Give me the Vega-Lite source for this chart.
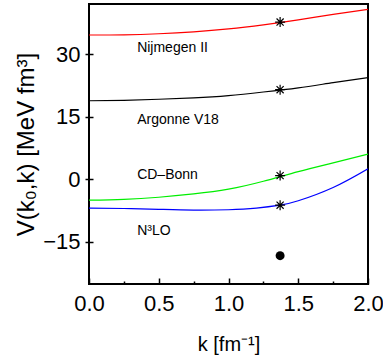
{
  "$schema": "https://vega.github.io/schema/vega-lite/v6.json",
  "width": 279,
  "height": 280,
  "autosize": {"type": "none"},
  "padding": {"left": 89, "top": 4, "right": 15, "bottom": 73},
  "config": {
    "font": "Liberation Sans",
    "view": {"stroke": "black", "strokeWidth": 2},
    "axis": {"grid": false, "domain": false, "tickColor": "black", "labelColor": "black", "titleColor": "black", "titleFontWeight": "normal", "tickWidth": 1.5}
  },
  "datasets": {
    "curves": [
      {"model": "Nijmegen II", "k": 0, "v": 34.65}, {"model": "Nijmegen II", "k": 0.25, "v": 34.7}, {"model": "Nijmegen II", "k": 0.5, "v": 34.95}, {"model": "Nijmegen II", "k": 0.75, "v": 35.4}, {"model": "Nijmegen II", "k": 1.0, "v": 36.1}, {"model": "Nijmegen II", "k": 1.25, "v": 37.1}, {"model": "Nijmegen II", "k": 1.5, "v": 38.3}, {"model": "Nijmegen II", "k": 1.75, "v": 39.6}, {"model": "Nijmegen II", "k": 2.0, "v": 40.8},
      {"model": "Argonne V18", "k": 0, "v": 18.85}, {"model": "Argonne V18", "k": 0.25, "v": 18.95}, {"model": "Argonne V18", "k": 0.5, "v": 19.2}, {"model": "Argonne V18", "k": 0.75, "v": 19.55}, {"model": "Argonne V18", "k": 1.0, "v": 20.1}, {"model": "Argonne V18", "k": 1.25, "v": 20.95}, {"model": "Argonne V18", "k": 1.5, "v": 21.95}, {"model": "Argonne V18", "k": 1.75, "v": 23.2}, {"model": "Argonne V18", "k": 2.0, "v": 24.4},
      {"model": "CD-Bonn", "k": 0, "v": -5.05}, {"model": "CD-Bonn", "k": 0.25, "v": -4.85}, {"model": "CD-Bonn", "k": 0.5, "v": -4.35}, {"model": "CD-Bonn", "k": 0.75, "v": -3.55}, {"model": "CD-Bonn", "k": 1.0, "v": -2.4}, {"model": "CD-Bonn", "k": 1.25, "v": -0.5}, {"model": "CD-Bonn", "k": 1.5, "v": 1.8}, {"model": "CD-Bonn", "k": 1.75, "v": 3.9}, {"model": "CD-Bonn", "k": 2.0, "v": 6.0},
      {"model": "N3LO", "k": 0, "v": -6.97}, {"model": "N3LO", "k": 0.25, "v": -7.05}, {"model": "N3LO", "k": 0.5, "v": -7.25}, {"model": "N3LO", "k": 0.75, "v": -7.45}, {"model": "N3LO", "k": 1.0, "v": -7.35}, {"model": "N3LO", "k": 1.2, "v": -6.95}, {"model": "N3LO", "k": 1.37, "v": -6.25}, {"model": "N3LO", "k": 1.5, "v": -5.2}, {"model": "N3LO", "k": 1.75, "v": -2.0}, {"model": "N3LO", "k": 2.0, "v": 2.5}
    ],
    "stars": [
      {"k": 1.37, "v": 37.75}, {"k": 1.37, "v": 21.5}, {"k": 1.37, "v": 0.85}, {"k": 1.37, "v": -6.25}
    ],
    "dot": [{"k": 1.37, "v": -18.4}],
    "labels": [
      {"k": 0.345, "v": 31.5, "text": "Nijmegen II"},
      {"k": 0.345, "v": 14.3, "text": "Argonne V18"},
      {"k": 0.345, "v": 1.1, "text": "CD–Bonn"},
      {"k": 0.345, "v": -12.4, "text": "N³LO"}
    ]
  },
  "encoding": {
    "x": {
      "field": "k", "type": "quantitative",
      "scale": {"domain": [0, 2], "nice": false, "zero": false},
      "axis": {
        "title": "k [fm⁻¹]",
        "titleFontSize": 20,
        "titlePadding": 20,
        "values": [0, 0.25, 0.5, 0.75, 1, 1.25, 1.5, 1.75, 2],
        "tickSize": -6,
        "tickDash": {"condition": {"test": "datum.value % 0.5 != 0", "value": [3, 10]}, "value": [6, 0]},
        "labelExpr": "datum.value % 0.5 == 0 ? format(datum.value, '.1f') : ''",
        "labelFontSize": 22,
        "labelPadding": 15,
        "labelFlush": false
      }
    },
    "y": {
      "field": "v", "type": "quantitative",
      "scale": {"domain": [-25.2, 42.1], "nice": false, "zero": false},
      "axis": {
        "title": "V(k₀,k) [MeV fm³]",
        "titleFontSize": 24,
        "titlePadding": 4,
        "values": [-15, 0, 15, 30],
        "offset": -4,
        "tickSize": 8,
        "labelFontSize": 22,
        "labelPadding": 5
      }
    }
  },
  "layer": [
    {
      "data": {"name": "curves"},
      "mark": {"type": "line", "interpolate": "natural", "strokeWidth": 1.2, "clip": true},
      "encoding": {
        "color": {
          "field": "model", "type": "nominal", "legend": null,
          "scale": {"domain": ["Nijmegen II", "Argonne V18", "CD-Bonn", "N3LO"], "range": ["#ff0000", "#000000", "#00ee00", "#0000ff"]}
        }
      }
    },
    {
      "data": {"name": "stars"},
      "mark": {"type": "point", "shape": "M-1,0L1,0M0,-1L0,1M-0.71,-0.71L0.71,0.71M-0.71,0.71L0.71,-0.71", "size": 100, "stroke": "black", "strokeWidth": 1.2, "filled": false, "opacity": 1}
    },
    {
      "data": {"name": "dot"},
      "mark": {"type": "point", "shape": "circle", "size": 80, "filled": true, "color": "black", "opacity": 1}
    },
    {
      "data": {"name": "labels"},
      "mark": {"type": "text", "align": "left", "baseline": "middle", "fontSize": 14, "color": "black"},
      "encoding": {"text": {"field": "text"}}
    }
  ]
}
